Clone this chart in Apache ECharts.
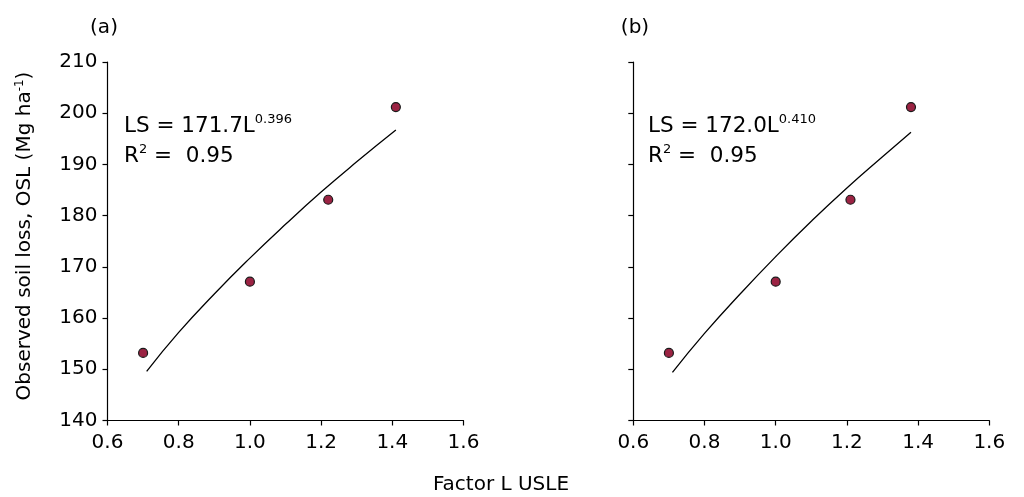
<!DOCTYPE html>
<html>
<head>
<meta charset="utf-8">
<script src="https://cdn.jsdelivr.net/npm/echarts@6/dist/echarts.min.js"></script>
<style>
  html, body { margin: 0; padding: 0; background: #fff; }
  #chart { width: 1024px; height: 497px; }
</style>
</head>
<body>
<div id="chart"></div>
<script>
// observed points, panel (a)
const obsXA = [0.70, 1.00, 1.22, 1.41];
const obsYA = [153.2, 167.1, 183.1, 201.2];
// observed points, panel (b)
const obsXB = [0.70, 1.00, 1.21, 1.38];
const obsYB = [153.2, 167.1, 183.1, 201.2];
// fitted curves
const fitXA = [0.71, 0.8, 0.9, 1.0, 1.1, 1.2, 1.3, 1.41];
const fitYA = [149.6, 157.2, 164.7, 171.7, 178.3, 184.6, 190.5, 196.7];
const fitXB = [0.71, 0.8, 0.9, 1.0, 1.1, 1.2, 1.3, 1.38];
const fitYB = [149.4, 157.0, 164.7, 172.0, 178.9, 185.4, 191.5, 196.3];

const font = 'DejaVu Sans';
const dotColor = '#9B2343';

function pairs(xs, ys) {
  return xs.map((x, i) => [x, ys[i]]);
}

function xAxisCfg(idx) {
  return {
    type: 'value', gridIndex: idx, min: 0.6, max: 1.6, interval: 0.2,
    axisLine: { lineStyle: { color: '#000', width: 1.2 } },
    axisTick: { show: true, length: 5, lineStyle: { color: '#000', width: 1.2 } },
    axisLabel: {
      color: '#000', fontFamily: font, fontSize: 20, margin: 12,
      formatter: v => v.toFixed(1)
    },
    splitLine: { show: false }
  };
}

function yAxisCfg(idx, labels) {
  return {
    type: 'value', gridIndex: idx, min: 140, max: 210, interval: 10,
    axisLine: { show: true, lineStyle: { color: '#000', width: 1.2 } },
    axisTick: { show: true, length: 5, lineStyle: { color: '#000', width: 1.2 } },
    axisLabel: { show: labels, color: '#000', fontFamily: font, fontSize: 20, margin: 10 },
    splitLine: { show: false }
  };
}

const eqRich = {
  a: { fontFamily: font, fontSize: 21.5, color: '#000', lineHeight: 30 },
  s: { fontFamily: font, fontSize: 13, color: '#000', lineHeight: 30, verticalAlign: 'top', padding: [2, 0, 0, 0] }
};

let option = {
  animation: false,
  grid: [
    { left: 107.5, top: 62, width: 356, height: 358.5 },
    { left: 633.3, top: 62, width: 356, height: 358.5 }
  ],
  xAxis: [xAxisCfg(0), xAxisCfg(1)],
  yAxis: [yAxisCfg(0, true), yAxisCfg(1, false)],
  series: [
    {
      type: 'line', xAxisIndex: 0, yAxisIndex: 0, data: pairs(fitXA, fitYA),
      smooth: true, showSymbol: false, lineStyle: { color: '#000', width: 1.3 }
    },
    {
      type: 'scatter', xAxisIndex: 0, yAxisIndex: 0, data: pairs(obsXA, obsYA),
      symbolSize: 9, itemStyle: { color: dotColor, opacity: 1, borderColor: '#1a1a1a', borderWidth: 1.2 }
    },
    {
      type: 'line', xAxisIndex: 1, yAxisIndex: 1, data: pairs(fitXB, fitYB),
      smooth: true, showSymbol: false, lineStyle: { color: '#000', width: 1.3 }
    },
    {
      type: 'scatter', xAxisIndex: 1, yAxisIndex: 1, data: pairs(obsXB, obsYB),
      symbolSize: 9, itemStyle: { color: dotColor, opacity: 1, borderColor: '#1a1a1a', borderWidth: 1.2 }
    }
  ],
  graphic: [
    {
      type: 'text', x: 104, y: 28,
      style: { text: '(a)', fontFamily: font, fontSize: 20, fill: '#000', align: 'center', verticalAlign: 'middle' }
    },
    {
      type: 'text', x: 635, y: 28,
      style: { text: '(b)', fontFamily: font, fontSize: 20, fill: '#000', align: 'center', verticalAlign: 'middle' }
    },
    {
      type: 'text', x: 124, y: 111,
      style: { text: '{a|LS = 171.7L}{s|0.396}\n{a|R}{s|2}{a| =  0.95}', rich: eqRich, align: 'left', verticalAlign: 'top' }
    },
    {
      type: 'text', x: 648, y: 111,
      style: { text: '{a|LS = 172.0L}{s|0.410}\n{a|R}{s|2}{a| =  0.95}', rich: eqRich, align: 'left', verticalAlign: 'top' }
    },
    {
      type: 'text', x: 501, y: 485,
      style: { text: 'Factor L USLE', fontFamily: font, fontSize: 20, fill: '#000', align: 'center', verticalAlign: 'middle' }
    },
    {
      type: 'text', x: 25, y: 236, rotation: Math.PI / 2,
      style: {
        text: '{a|Observed soil loss, OSL (Mg ha}{s|-1}{a|)}',
        rich: {
          a: { fontFamily: font, fontSize: 20, color: '#000', lineHeight: 26 },
          s: { fontFamily: font, fontSize: 12, color: '#000', lineHeight: 26, verticalAlign: 'top', padding: [2, 0, 0, 0] }
        },
        align: 'center', verticalAlign: 'middle'
      }
    }
  ]
};

let myChart = echarts.init(document.getElementById('chart'));
myChart.setOption(option);
</script>
</body>
</html>
